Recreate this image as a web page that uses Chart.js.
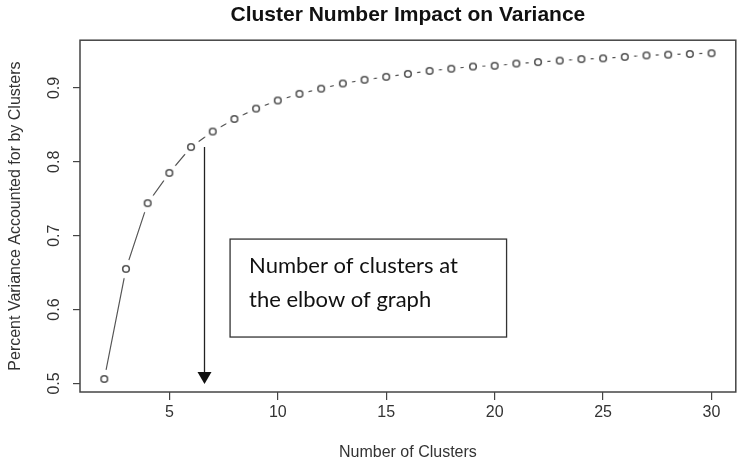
<!DOCTYPE html>
<html>
<head>
<meta charset="utf-8">
<title>Cluster Number Impact on Variance</title>
<script src="https://cdn.jsdelivr.net/npm/chart.js@4.4.1/dist/chart.umd.min.js"></script>
<style>
  html, body { margin: 0; padding: 0; background: #fff; }
  #wrap { width: 747px; height: 469px; }
</style>
</head>
<body>
<div id="wrap"><canvas id="elbow"></canvas></div>
<script>
// data
const clusters = [2, 3, 4, 5, 6, 7, 8, 9, 10, 11, 12, 13, 14, 15, 16,
                  17, 18, 19, 20, 21, 22, 23, 24, 25, 26, 27, 28, 29, 30];
const variance = [0.506, 0.655, 0.744, 0.785, 0.820, 0.841, 0.858, 0.872, 0.883, 0.892,
                  0.899, 0.906, 0.911, 0.915, 0.919, 0.923, 0.926, 0.929, 0.930, 0.933,
                  0.935, 0.937, 0.939, 0.940, 0.942, 0.944, 0.945, 0.946, 0.947];
const xTicks = [5, 10, 15, 20, 25, 30];
const yTicks = [0.5, 0.6, 0.7, 0.8, 0.9];
const noteLines = ['Number of clusters at', 'the elbow of graph'];

// annotation placement, in data units
const arrowAt = { x: 6.62, from: 0.820, to: 0.4992 };
const noteBox = { x0: 7.80, x1: 20.55, y0: 0.5628, y1: 0.6954 };

const INK = '#444';
const FONT = "'Liberation Sans', Arial, sans-serif";

// R type="b" look: open circle with a white halo that cuts the line
function makeMarker() {
    const c = document.createElement('canvas');
    c.width = 20; c.height = 20;
    const g = c.getContext('2d');
    g.fillStyle = '#fff';
    g.beginPath(); g.arc(10, 10, 9.5, 0, Math.PI * 2); g.fill();
    g.strokeStyle = '#555'; g.lineWidth = 1.6;
    g.beginPath(); g.arc(10, 10, 3.3, 0, Math.PI * 2); g.stroke();
    return c;
}

const frameAndNote = {
    id: 'frameAndNote',
    afterDraw(chart) {
        const { ctx, chartArea: a, scales: { x, y } } = chart;
        ctx.save();

        // plot box
        ctx.strokeStyle = INK; ctx.lineWidth = 1.5;
        ctx.strokeRect(a.left, a.top, a.right - a.left, a.bottom - a.top);

        // arrow
        const ax  = Math.round(x.getPixelForValue(arrowAt.x)) + 0.5;
        const ay0 = y.getPixelForValue(arrowAt.from);
        const ay1 = y.getPixelForValue(arrowAt.to);
        ctx.strokeStyle = '#222'; ctx.lineWidth = 1.3;
        ctx.beginPath(); ctx.moveTo(ax, ay0); ctx.lineTo(ax, ay1 - 10); ctx.stroke();
        ctx.fillStyle = '#111';
        ctx.beginPath();
        ctx.moveTo(ax - 7, ay1 - 12); ctx.lineTo(ax + 7, ay1 - 12); ctx.lineTo(ax, ay1);
        ctx.closePath(); ctx.fill();

        // note box
        const bx0 = x.getPixelForValue(noteBox.x0), bx1 = x.getPixelForValue(noteBox.x1);
        const by0 = y.getPixelForValue(noteBox.y1), by1 = y.getPixelForValue(noteBox.y0);
        ctx.strokeStyle = '#333'; ctx.lineWidth = 1.3;
        ctx.strokeRect(bx0, by0, bx1 - bx0, by1 - by0);
        ctx.fillStyle = '#111';
        ctx.font = "22px Lato, 'Open Sans', sans-serif";
        ctx.textAlign = 'left'; ctx.textBaseline = 'alphabetic';
        noteLines.forEach((t, i) => ctx.fillText(t, bx0 + 19, by0 + 34 + i * 34));

        ctx.restore();
    }
};

new Chart(document.getElementById('elbow'), {
    type: 'line',
    data: {
        datasets: [{
            data: clusters.map((c, i) => ({ x: c, y: variance[i] })),
            borderColor: '#555',
            borderWidth: 1.2,
            pointStyle: makeMarker(),
            pointRadius: 10,
            tension: 0,
            fill: false
        }]
    },
    options: {
        responsive: true,
        maintainAspectRatio: false,
        animation: false,
        events: [],
        layout: { padding: { left: 0, right: 7, top: 0, bottom: 0 } },
        plugins: {
            legend: { display: false },
            tooltip: { enabled: false },
            title: {
                display: true,
                fullSize: false,   // centre over the plot box like R does
                text: 'Cluster Number Impact on Variance',
                color: '#111',
                font: { family: FONT, size: 21, weight: 'bold' },
                padding: { top: 3, bottom: 12 }
            }
        },
        scales: {
            x: {
                type: 'linear',
                min: 0.88, max: 31.12,
                afterFit(s) { s.height = 77; },
                afterBuildTicks(s) { s.ticks = xTicks.map(v => ({ value: v })); },
                ticks: { padding: 3, color: '#333', font: { family: FONT, size: 16 } },
                grid: { drawOnChartArea: false, tickLength: 8, color: INK, lineWidth: 1.2 },
                border: { display: false },
                title: {
                    display: true, text: 'Number of Clusters', color: '#333',
                    font: { family: FONT, size: 16 }, padding: { top: 0, bottom: 7 }
                }
            },
            y: {
                min: 0.4884, max: 0.9646,
                afterFit(s) { s.width = 80; },
                afterBuildTicks(s) { s.ticks = yTicks.map(v => ({ value: v })); },
                ticks: {
                    minRotation: 90, maxRotation: 90, crossAlign: 'center', padding: 7,
                    color: '#333', font: { family: FONT, size: 16 },
                    callback: v => v.toFixed(1)
                },
                grid: { drawOnChartArea: false, tickLength: 7, color: INK, lineWidth: 1.2 },
                border: { display: false },
                title: {
                    display: true, text: 'Percent Variance Accounted for by Clusters', color: '#333',
                    font: { family: FONT, size: 16 }, padding: { top: 6, bottom: 0 }
                }
            }
        }
    },
    plugins: [frameAndNote]
});
</script>
</body>
</html>
